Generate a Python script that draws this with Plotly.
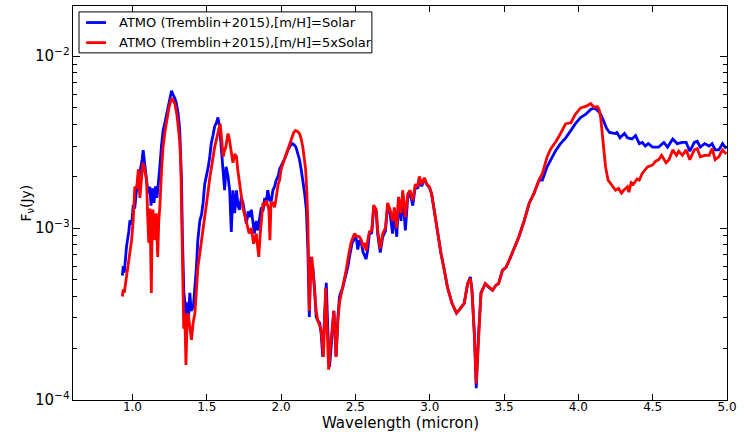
import plotly.graph_objects as go

# Wavelength (micron) and flux density (Jy) for ATMO model, [m/H]=Solar
wl_solar = [0.932, 0.938, 0.945, 0.96, 0.975, 0.983, 0.995, 1.005, 1.015, 1.03, 1.045, 1.055, 1.065, 1.072,
            1.082, 1.095, 1.105, 1.117, 1.125, 1.135, 1.145, 1.155, 1.165, 1.175, 1.184, 1.195, 1.206, 1.218,
            1.23, 1.245, 1.255, 1.263, 1.272, 1.285, 1.296, 1.308, 1.318, 1.325, 1.33, 1.336, 1.34, 1.346,
            1.352, 1.36, 1.367, 1.375, 1.386, 1.395, 1.41, 1.42, 1.43, 1.44, 1.453, 1.465, 1.475, 1.486,
            1.498, 1.51, 1.52, 1.53, 1.543, 1.553, 1.565, 1.575, 1.586, 1.598, 1.61, 1.62, 1.63, 1.643,
            1.654, 1.665, 1.676, 1.688, 1.7, 1.71, 1.72, 1.732, 1.744, 1.755, 1.766, 1.779, 1.79, 1.8,
            1.81, 1.82, 1.833, 1.845, 1.856, 1.867, 1.878, 1.89, 1.9, 1.91, 1.923, 1.935, 1.945, 1.956,
            1.967, 1.98, 1.99, 2.012, 2.03, 2.046, 2.06, 2.075, 2.088, 2.1, 2.112, 2.124, 2.135, 2.146,
            2.158, 2.17, 2.18, 2.19, 2.196, 2.2, 2.207, 2.214, 2.225, 2.236, 2.247, 2.26, 2.27, 2.28,
            2.292, 2.304, 2.315, 2.326, 2.34, 2.355, 2.362, 2.37, 2.382, 2.393, 2.405, 2.415, 2.425, 2.438,
            2.45, 2.46, 2.47, 2.478, 2.488, 2.5, 2.508, 2.516, 2.527, 2.54, 2.55, 2.56, 2.572, 2.583,
            2.594, 2.61, 2.623, 2.64, 2.65, 2.667, 2.684, 2.702, 2.717, 2.733, 2.75, 2.762, 2.778, 2.79,
            2.807, 2.818, 2.836, 2.852, 2.868, 2.886, 2.903, 2.92, 2.93, 2.946, 2.964, 2.982, 2.998, 3.013,
            3.03, 3.053, 3.076, 3.098, 3.12, 3.15, 3.18, 3.205, 3.232, 3.255, 3.273, 3.284, 3.3, 3.313,
            3.327, 3.345, 3.374, 3.4, 3.423, 3.445, 3.463, 3.49, 3.512, 3.535, 3.57, 3.6, 3.635, 3.67,
            3.7, 3.735, 3.758, 3.79, 3.815, 3.85, 3.88, 3.915, 3.95, 3.98, 4.015, 4.05, 4.083, 4.105,
            4.128, 4.15, 4.17, 4.19, 4.21, 4.25, 4.26, 4.28, 4.31, 4.33, 4.36, 4.385, 4.41, 4.43,
            4.45, 4.47, 4.5, 4.54, 4.575, 4.6, 4.635, 4.665, 4.7, 4.725, 4.75, 4.78, 4.8, 4.82,
            4.85, 4.88, 4.9, 4.92, 4.945, 4.97, 4.995]
flux_solar = [5.3e-4, 6.0e-4, 5.5e-4, 7.8e-4, 9.5e-4, 1.11e-3, 1.05e-3, 1.36e-3, 1.3e-3, 1.74e-3, 2.0e-3, 2.2e-3, 2.5e-3, 2.84e-3,
              2.3e-3, 1.9e-3, 1.6e-3, 1.74e-3, 1.35e-3, 1.7e-3, 1.4e-3, 1.75e-3, 1.5e-3, 1.8e-3, 2.26e-3, 3.0e-3, 3.7e-3, 4.1e-3,
              4.6e-3, 5.3e-3, 6.0e-3, 6.3e-3, 6.0e-3, 5.7e-3, 5.3e-3, 4.6e-3, 3.7e-3, 2.8e-3, 1.9e-3, 9.0e-4, 5.5e-4, 4.2e-4,
              3.8e-4, 3.0e-4, 3.7e-4, 2.8e-4, 4.2e-4, 3.3e-4, 3.5e-4, 4.5e-4, 5.9e-4, 8.5e-4, 1.1e-3, 1.2e-3, 1.4e-3, 1.8e-3,
              2.0e-3, 2.27e-3, 2.6e-3, 3.1e-3, 3.5e-3, 3.9e-3, 4.1e-3, 4.4e-3, 3.9e-3, 3.0e-3, 2.27e-3, 1.66e-3, 2.27e-3, 2.0e-3,
              1.66e-3, 9.5e-4, 1.66e-3, 1.22e-3, 1.66e-3, 1.35e-3, 1.28e-3, 1.5e-3, 1.4e-3, 1.2e-3, 1.06e-3, 1.25e-3, 1.16e-3, 1.28e-3,
              1.05e-3, 9.3e-4, 1.1e-3, 9.7e-4, 1.15e-3, 1.32e-3, 1.25e-3, 1.5e-3, 1.4e-3, 1.66e-3, 1.45e-3, 1.45e-3, 1.66e-3, 1.74e-3,
              1.9e-3, 2.0e-3, 2.2e-3, 2.4e-3, 2.6e-3, 2.84e-3, 3.0e-3, 3.1e-3, 3.05e-3, 2.96e-3, 2.75e-3, 2.5e-3, 2.2e-3, 1.9e-3,
              1.6e-3, 1.28e-3, 7.5e-4, 3.04e-4, 5.0e-4, 6.8e-4, 6.0e-4, 5.9e-4, 4.5e-4, 3.04e-4, 2.9e-4, 2.8e-4, 2.4e-4, 1.78e-4,
              3.0e-4, 4.8e-4, 2.5e-4, 1.56e-4, 2.2e-4, 3.3e-4, 2.6e-4, 1.78e-4, 3.0e-4, 4.0e-4, 4.3e-4, 4.5e-4, 4.9e-4, 5.4e-4,
              6.0e-4, 6.8e-4, 7.5e-4, 8.2e-4, 8.5e-4, 8.9e-4, 8.5e-4, 7.5e-4, 8.5e-4, 8.2e-4, 7.3e-4, 6.9e-4, 6.6e-4, 7.5e-4,
              9.2e-4, 9.4e-4, 1.3e-3, 1.24e-3, 9.2e-4, 7.2e-4, 8.9e-4, 9.6e-4, 1.35e-3, 1.22e-3, 9.3e-4, 1.25e-3, 8.9e-4, 1.45e-3,
              1.1e-3, 1.6e-3, 9.7e-4, 1.5e-3, 1.6e-3, 1.35e-3, 1.75e-3, 1.7e-3, 1.95e-3, 1.75e-3, 1.93e-3, 1.78e-3, 1.72e-3, 1.58e-3,
              1.28e-3, 9.3e-4, 7.1e-4, 5.7e-4, 4.5e-4, 3.65e-4, 3.2e-4, 3.4e-4, 3.65e-4, 4.75e-4, 5.2e-4, 4.4e-4, 2.45e-4, 1.17e-4,
              2.3e-4, 4.2e-4, 4.75e-4, 4.5e-4, 4.35e-4, 4.65e-4, 4.75e-4, 5.7e-4, 5.9e-4, 6.5e-4, 7.8e-4, 8.9e-4, 1.1e-3, 1.4e-3,
              1.58e-3, 1.9e-3, 1.9e-3, 2.27e-3, 2.5e-3, 2.85e-3, 3.1e-3, 3.35e-3, 3.7e-3, 4.05e-3, 4.4e-3, 4.6e-3, 4.9e-3, 5.0e-3,
              4.85e-3, 4.6e-3, 4.2e-3, 3.8e-3, 3.6e-3, 3.55e-3, 3.6e-3, 3.35e-3, 3.55e-3, 3.35e-3, 3.3e-3, 3.45e-3, 3.1e-3, 3.15e-3,
              3.0e-3, 3.1e-3, 2.96e-3, 2.96e-3, 3.15e-3, 2.96e-3, 3.3e-3, 3.1e-3, 3.15e-3, 3.15e-3, 2.8e-3, 3.15e-3, 3.2e-3, 2.96e-3,
              3.1e-3, 3.0e-3, 3.1e-3, 2.85e-3, 2.85e-3, 3.1e-3, 2.9e-3]

# Wavelength (micron) and flux density (Jy) for ATMO model, [m/H]=5xSolar
wl_5x = [0.932, 0.938, 0.945, 0.955, 0.971, 0.983, 0.994, 1.005, 1.016, 1.028, 1.04, 1.05, 1.06, 1.07,
         1.082, 1.095, 1.102, 1.11, 1.118, 1.127, 1.132, 1.138, 1.145, 1.15, 1.16, 1.17, 1.177, 1.184,
         1.195, 1.206, 1.218, 1.23, 1.245, 1.263, 1.275, 1.285, 1.3, 1.318, 1.325, 1.33, 1.335, 1.34,
         1.345, 1.352, 1.36, 1.367, 1.375, 1.386, 1.397, 1.408, 1.42, 1.43, 1.44, 1.452, 1.464, 1.475,
         1.486, 1.498, 1.51, 1.52, 1.53, 1.543, 1.553, 1.565, 1.575, 1.59, 1.6, 1.61, 1.618, 1.628,
         1.643, 1.652, 1.66, 1.668, 1.676, 1.688, 1.7, 1.708, 1.717, 1.73, 1.738, 1.745, 1.755, 1.766,
         1.775, 1.785, 1.8, 1.815, 1.825, 1.833, 1.842, 1.85, 1.86, 1.87, 1.878, 1.89, 1.9, 1.91,
         1.918, 1.925, 1.932, 1.945, 1.956, 1.967, 1.98, 1.99, 2.0, 2.018, 2.035, 2.05, 2.07, 2.085,
         2.097, 2.11, 2.124, 2.135, 2.146, 2.156, 2.165, 2.172, 2.18, 2.186, 2.19, 2.196, 2.2, 2.207,
         2.215, 2.225, 2.236, 2.247, 2.258, 2.27, 2.285, 2.292, 2.3, 2.31, 2.32, 2.335, 2.355, 2.362,
         2.37, 2.382, 2.393, 2.41, 2.425, 2.438, 2.455, 2.47, 2.483, 2.495, 2.505, 2.516, 2.527, 2.54,
         2.55, 2.56, 2.572, 2.583, 2.594, 2.61, 2.623, 2.64, 2.65, 2.667, 2.684, 2.702, 2.717, 2.733,
         2.75, 2.762, 2.778, 2.79, 2.807, 2.818, 2.836, 2.852, 2.868, 2.886, 2.903, 2.92, 2.93, 2.946,
         2.964, 2.982, 2.998, 3.013, 3.03, 3.053, 3.076, 3.098, 3.12, 3.15, 3.18, 3.205, 3.232, 3.255,
         3.273, 3.284, 3.3, 3.313, 3.327, 3.345, 3.374, 3.4, 3.423, 3.445, 3.463, 3.49, 3.512, 3.535,
         3.57, 3.6, 3.635, 3.67, 3.7, 3.735, 3.758, 3.79, 3.815, 3.85, 3.88, 3.915, 3.95, 3.98,
         4.015, 4.05, 4.083, 4.105, 4.128, 4.14, 4.15, 4.16, 4.17, 4.183, 4.2, 4.23, 4.25, 4.27,
         4.29, 4.305, 4.33, 4.34, 4.355, 4.37, 4.395, 4.41, 4.43, 4.465, 4.5, 4.52, 4.54, 4.56,
         4.59, 4.61, 4.635, 4.66, 4.675, 4.7, 4.725, 4.75, 4.78, 4.8, 4.82, 4.85, 4.88, 4.9,
         4.92, 4.945, 4.97, 4.995]
flux_5x = [4.0e-4, 4.4e-4, 4.2e-4, 4.8e-4, 5.9e-4, 7.2e-4, 8.5e-4, 1.1e-3, 1.74e-3, 1.7e-3, 2.2e-3, 1.5e-3, 2.0e-3, 2.4e-3,
           2.2e-3, 1.9e-3, 1.2e-3, 8.2e-4, 1.3e-3, 4.2e-4, 1.0e-3, 1.28e-3, 1.0e-3, 8.5e-4, 1.22e-3, 6.8e-4, 1.1e-3, 1.32e-3,
           2.1e-3, 2.96e-3, 3.6e-3, 4.2e-3, 5.0e-3, 5.7e-3, 5.5e-3, 5.3e-3, 4.5e-3, 3.2e-3, 2.4e-3, 1.5e-3, 8.0e-4, 4.5e-4,
           2.6e-4, 3.2e-4, 1.6e-4, 2.8e-4, 3.2e-4, 2.65e-4, 2.24e-4, 2.8e-4, 3.2e-4, 4.3e-4, 5.9e-4, 7.0e-4, 8.5e-4, 1.0e-3,
           1.22e-3, 1.4e-3, 1.66e-3, 1.95e-3, 2.27e-3, 2.6e-3, 2.96e-3, 3.3e-3, 3.7e-3, 4.05e-3, 3.3e-3, 2.6e-3, 2.8e-3, 2.96e-3,
           3.55e-3, 3.3e-3, 2.96e-3, 2.6e-3, 2.4e-3, 2.7e-3, 2.6e-3, 2.2e-3, 1.9e-3, 1.58e-3, 1.45e-3, 1.28e-3, 1.2e-3, 1.1e-3,
           1.0e-3, 9.3e-4, 1.0e-3, 8.1e-4, 8.8e-4, 9.3e-4, 7.8e-4, 6.8e-4, 9.3e-4, 1.2e-3, 1.4e-3, 1.35e-3, 1.45e-3, 1.35e-3,
           1.28e-3, 8.5e-4, 1.4e-3, 1.4e-3, 1.32e-3, 1.5e-3, 1.8e-3, 1.9e-3, 2.2e-3, 2.45e-3, 2.7e-3, 3.0e-3, 3.4e-3, 3.6e-3,
           3.7e-3, 3.65e-3, 3.55e-3, 3.3e-3, 2.96e-3, 2.6e-3, 2.2e-3, 1.7e-3, 1.1e-3, 5.5e-4, 3.3e-4, 4.8e-4, 6.0e-4, 6.8e-4,
           5.5e-4, 4.0e-4, 3.3e-4, 2.9e-4, 2.7e-4, 2.55e-4, 1.78e-4, 3.0e-4, 4.5e-4, 2.6e-4, 1.5e-4, 2.2e-4, 3.3e-4, 2.5e-4,
           1.78e-4, 2.9e-4, 3.7e-4, 4.35e-4, 5.0e-4, 5.7e-4, 7.0e-4, 8.2e-4, 8.8e-4, 9.3e-4, 9.0e-4, 8.9e-4, 8.9e-4, 8.5e-4,
           7.8e-4, 8.2e-4, 7.4e-4, 8.5e-4, 9.5e-4, 9.7e-4, 1.36e-3, 1.28e-3, 9.7e-4, 7.6e-4, 9.3e-4, 1.0e-3, 1.4e-3, 1.28e-3,
           1.1e-3, 1.32e-3, 1.0e-3, 1.52e-3, 1.22e-3, 1.66e-3, 1.16e-3, 1.58e-3, 1.66e-3, 1.45e-3, 1.8e-3, 1.74e-3, 2.0e-3, 1.8e-3,
           1.96e-3, 1.8e-3, 1.74e-3, 1.58e-3, 1.28e-3, 9.3e-4, 7.1e-4, 5.7e-4, 4.5e-4, 3.65e-4, 3.2e-4, 3.4e-4, 3.65e-4, 4.75e-4,
           5.1e-4, 4.35e-4, 2.45e-4, 1.25e-4, 2.3e-4, 4.2e-4, 4.75e-4, 4.5e-4, 4.35e-4, 4.65e-4, 4.75e-4, 5.7e-4, 5.9e-4, 6.5e-4,
           7.8e-4, 8.9e-4, 1.1e-3, 1.4e-3, 1.58e-3, 1.9e-3, 2.08e-3, 2.6e-3, 2.9e-3, 3.2e-3, 3.55e-3, 4.05e-3, 4.1e-3, 4.6e-3,
           5.0e-3, 5.1e-3, 5.3e-3, 5.05e-3, 5.1e-3, 4.9e-3, 4.4e-3, 3.5e-3, 2.96e-3, 2.27e-3, 1.9e-3, 1.74e-3, 1.66e-3, 1.7e-3,
           1.6e-3, 1.66e-3, 1.74e-3, 1.62e-3, 1.84e-3, 1.8e-3, 1.93e-3, 1.9e-3, 2.08e-3, 2.27e-3, 2.33e-3, 2.45e-3, 2.5e-3, 2.65e-3,
           2.4e-3, 2.5e-3, 2.85e-3, 2.65e-3, 2.8e-3, 2.65e-3, 2.85e-3, 2.5e-3, 2.85e-3, 2.9e-3, 2.6e-3, 2.65e-3, 2.65e-3, 2.9e-3,
           2.5e-3, 2.6e-3, 2.85e-3, 2.7e-3]

series_names = ["ATMO (Tremblin+2015),[m/H]=Solar", "ATMO (Tremblin+2015),[m/H]=5xSolar"]
series_colors = ["#0000ff", "#ff0000"]
x_ticks = [1.0, 1.5, 2.0, 2.5, 3.0, 3.5, 4.0, 4.5, 5.0]
x_title = "Wavelength (micron)"
y_title = "F<sub>ν</sub>(Jy)"

FONT = "DejaVu Sans"
LW = 2.8

fig = go.Figure()
fig.add_trace(go.Scatter(x=wl_solar, y=flux_solar, mode="lines", name=series_names[0],
                         line=dict(color=series_colors[0], width=LW)))
fig.add_trace(go.Scatter(x=wl_5x, y=flux_5x, mode="lines", name=series_names[1],
                         line=dict(color=series_colors[1], width=LW)))

# Legend drawn in paper coordinates (box, line samples, labels)
legend_box = dict(x0=0.0092, x1=0.457, y0=0.881, y1=0.985)
row_y = [0.958, 0.907]
shapes = [dict(type="rect", xref="paper", yref="paper", line=dict(color="black", width=1),
               fillcolor="white", layer="above", **legend_box)]
annotations = []
for name, color, yy in zip(series_names, series_colors, row_y):
    shapes.append(dict(type="line", xref="paper", yref="paper", x0=0.020, x1=0.0505, y0=yy, y1=yy,
                       line=dict(color=color, width=LW), layer="above"))
    annotations.append(dict(text=name, xref="paper", yref="paper", x=0.068, y=yy, xanchor="left",
                            yanchor="middle", showarrow=False, font=dict(family=FONT, size=13, color="black")))

# Axis titles
annotations.append(dict(text=x_title, xref="paper", yref="paper", x=0.5, y=-0.0595, xanchor="center",
                        yanchor="middle", showarrow=False, font=dict(family=FONT, size=15, color="black")))
annotations.append(dict(text=y_title, xref="paper", yref="paper", x=-0.071, y=0.5, xanchor="center",
                        yanchor="middle", textangle=-90, showarrow=False,
                        font=dict(family=FONT, size=14, color="black")))

fig.update_layout(
    width=744, height=432,
    margin=dict(l=73, r=17, t=6, b=32),
    paper_bgcolor="white", plot_bgcolor="white",
    font=dict(family=FONT, size=12, color="black"),
    showlegend=False,
    shapes=shapes,
    annotations=annotations,
    xaxis=dict(range=[0.6, 5.0], tickvals=x_ticks, ticktext=[f"{v:.1f}" for v in x_ticks],
               ticks="inside", ticklen=6, tickwidth=1, tickcolor="black",
               showline=True, linecolor="black", linewidth=1, mirror="allticks",
               showgrid=False, zeroline=False, automargin=False, ticklabelstandoff=-4,
               tickfont=dict(size=12)),
    yaxis=dict(type="log", range=[-4, -1.708], dtick=1, exponentformat="power", showexponent="all",
               ticks="inside", ticklen=7, tickwidth=1, tickcolor="black",
               minor=dict(ticks="inside", ticklen=4, tickcolor="black", dtick="D1", showgrid=False),
               showline=True, linecolor="black", linewidth=1, mirror="allticks",
               showgrid=False, zeroline=False, automargin=False,
               tickfont=dict(size=12)),
)

fig.write_html("out.html")
